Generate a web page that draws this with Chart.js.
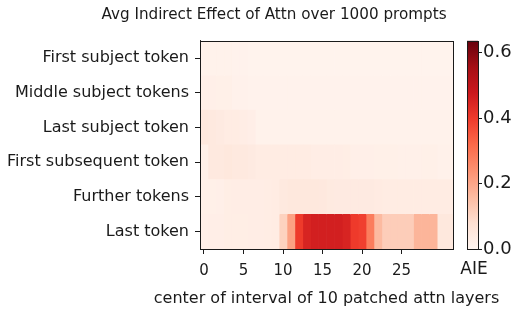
<!doctype html>
<html>

<head>
    <title>Avg Indirect Effect of Attn</title>
    <script src="https://cdn.jsdelivr.net/npm/chart.js"></script>
    <style>
        body { margin: 0; background: #fff; }
        #wrap { width: 520px; height: 315px; }
    </style>
</head>

<body>
    <div id="wrap">
        <canvas id="heatmap"></canvas>
    </div>

    <script>
        // token rows, top to bottom
        var rowLabels = ['First subject token', 'Middle subject tokens', 'Last subject token',
            'First subsequent token', 'Further tokens', 'Last token'];

        // center of the patched window, 0..31
        var layers = [];
        for (var i = 0; i < 32; i++) layers.push(i);
        var xTicks = [0, 5, 10, 15, 20, 25];
        var cbTicks = [0, 0.2, 0.4, 0.6];
        var vmax = 0.635;

        // AIE values
        var firstSubject = [0.012, 0.012, 0.012, 0.012, 0.01, 0.01, 0.008, 0.008, 0.008, 0.008, 0.008, 0.008, 0.008, 0.008, 0.008, 0.008,
            0.008, 0.008, 0.008, 0.008, 0.008, 0.008, 0.008, 0.008, 0.008, 0.008, 0.008, 0.008, 0.008, 0.008, 0.008, 0.008];
        var middleSubject = [0.022, 0.022, 0.02, 0.02, 0.014, 0.014, 0.01, 0.01, 0.01, 0.01, 0.01, 0.01, 0.01, 0.01, 0.01, 0.01,
            0.01, 0.01, 0.01, 0.01, 0.01, 0.01, 0.01, 0.01, 0.01, 0.01, 0.01, 0.01, 0.01, 0.01, 0.01, 0.01];
        var lastSubject = [0.05, 0.045, 0.04, 0.035, 0.035, 0.03, 0.025, 0.012, 0.012, 0.012, 0.012, 0.012, 0.012, 0.012, 0.012, 0.012,
            0.012, 0.012, 0.012, 0.012, 0.012, 0.012, 0.012, 0.012, 0.012, 0.012, 0.012, 0.012, 0.012, 0.012, 0.012, 0.012];
        var firstSubsequent = [0.02, 0.045, 0.045, 0.05, 0.045, 0.045, 0.04, 0.035, 0.035, 0.035, 0.035, 0.035, 0.035, 0.035, 0.03, 0.03,
            0.03, 0.03, 0.028, 0.022, 0.022, 0.022, 0.02, 0.02, 0.02, 0.018, 0.018, 0.018, 0.02, 0.02, 0.015, 0.015];
        var further = [0.02, 0.02, 0.022, 0.028, 0.03, 0.03, 0.03, 0.03, 0.032, 0.035, 0.045, 0.05, 0.05, 0.05, 0.05, 0.048,
            0.042, 0.04, 0.04, 0.04, 0.04, 0.04, 0.038, 0.035, 0.035, 0.035, 0.035, 0.035, 0.035, 0.035, 0.035, 0.035];
        var lastToken = [0.022, 0.025, 0.025, 0.028, 0.028, 0.028, 0.03, 0.03, 0.032, 0.035, 0.11, 0.21, 0.40, 0.45, 0.46, 0.46,
            0.46, 0.46, 0.45, 0.40, 0.39, 0.28, 0.16, 0.12, 0.12, 0.12, 0.12, 0.17, 0.17, 0.17, 0.05, 0.05];

        var grid = [firstSubject, middleSubject, lastSubject, firstSubsequent, further, lastToken];

        // matplotlib "Reds"
        var reds = [[255, 245, 240], [254, 224, 210], [252, 187, 161], [252, 146, 114], [251, 106, 74],
            [239, 59, 44], [203, 24, 29], [165, 15, 21], [103, 0, 13]];

        function redColor(v) {
            var t = Math.max(0, Math.min(1, v / vmax)) * (reds.length - 1);
            var k = Math.min(Math.floor(t), reds.length - 2);
            var f = t - k;
            var c = reds[k].map(function (a, j) { return Math.round(a + (reds[k + 1][j] - a) * f); });
            return 'rgb(' + c.join(',') + ')';
        }

        // one dataset per layer column, one floating bar per token row
        var datasets = layers.map(function (c) {
            return {
                data: rowLabels.map(function () { return [c - 0.5, c + 0.5]; }),
                backgroundColor: grid.map(function (row) { return redColor(row[c]); }),
                borderWidth: 0,
                grouped: false,
                barPercentage: 1,
                categoryPercentage: 1
            };
        });

        var txt = '#1a1a1a';

        // title, frame, colorbar, x label and "AIE"
        var extras = {
            id: 'extras',
            afterDraw: function (chart) {
                var ctx = chart.ctx, a = chart.chartArea;
                var cb = chart.scales.cb;
                var x0 = 467, x1 = 478;
                ctx.save();
                var g = ctx.createLinearGradient(0, a.bottom, 0, a.top);
                reds.forEach(function (c, i) {
                    g.addColorStop(i / (reds.length - 1), 'rgb(' + c.join(',') + ')');
                });
                ctx.fillStyle = g;
                ctx.fillRect(x0, a.top, x1 - x0, a.bottom - a.top);
                ctx.strokeStyle = txt;
                ctx.lineWidth = 1;
                ctx.strokeRect(x0 + 0.5, Math.round(a.top) + 0.5, x1 - x0, Math.round(a.bottom - a.top));
                cbTicks.forEach(function (v) {
                    var y = Math.round(cb.getPixelForValue(v)) + 0.5;
                    ctx.beginPath();
                    ctx.moveTo(x1, y);
                    ctx.lineTo(x1 + 4, y);
                    ctx.stroke();
                });
                ctx.strokeRect(Math.round(a.left) + 0.5, Math.round(a.top) + 0.5,
                    Math.round(a.right - a.left), Math.round(a.bottom - a.top));
                ctx.fillStyle = txt;
                ctx.textAlign = 'center';
                ctx.textBaseline = 'middle';
                ctx.font = '15.2px "DejaVu Sans"';
                ctx.fillText('Avg Indirect Effect of Attn over 1000 prompts', 274, 15);
                ctx.font = '17px "DejaVu Sans"';
                ctx.fillText('AIE', 474, 270);
                ctx.font = '16px "DejaVu Sans"';
                ctx.fillText('center of interval of 10 patched attn layers', (a.left + a.right) / 2, 299);
                ctx.restore();
            }
        };

        var heatmap = new Chart(document.getElementById('heatmap').getContext('2d'), {
            type: 'bar',
            data: { labels: rowLabels, datasets: datasets },
            options: {
                indexAxis: 'y',
                responsive: true,
                maintainAspectRatio: false,
                animation: false,
                layout: { padding: { left: 0, right: 0, top: 37, bottom: 0 } },
                plugins: {
                    legend: { display: false },
                    tooltip: { enabled: false },
                    title: { display: false }
                },
                scales: {
                    x: {
                        type: 'linear',
                        min: -0.5,
                        max: 31.5,
                        afterBuildTicks: function (s) {
                            s.ticks = xTicks.map(function (v) { return { value: v }; });
                        },
                        afterFit: function (s) { s.height = 66; },
                        grid: { drawOnChartArea: false, tickLength: 5, color: txt },
                        border: { color: txt },
                        ticks: { color: txt, font: { family: 'DejaVu Sans', size: 15 }, padding: 8, maxRotation: 0 }
                    },
                    y: {
                        afterFit: function (s) { s.width = 200; },
                        grid: { drawOnChartArea: false, offset: false, tickLength: 5, color: txt },
                        border: { color: txt },
                        ticks: { color: txt, font: { family: 'DejaVu Sans', size: 16 }, padding: 6 }
                    },
                    cb: {
                        type: 'linear',
                        axis: 'y',
                        position: 'right',
                        offset: false,
                        min: 0,
                        max: vmax,
                        afterBuildTicks: function (s) {
                            s.ticks = cbTicks.map(function (v) { return { value: v }; });
                        },
                        afterFit: function (s) { s.width = 67; },
                        grid: { display: false, drawTicks: false, offset: false },
                        border: { display: false },
                        ticks: {
                            color: txt,
                            font: { family: 'DejaVu Sans', size: 18 },
                            padding: 30,
                            callback: function (v) { return v.toFixed(1); }
                        }
                    }
                }
            },
            plugins: [extras]
        });
    </script>
</body>

</html>
